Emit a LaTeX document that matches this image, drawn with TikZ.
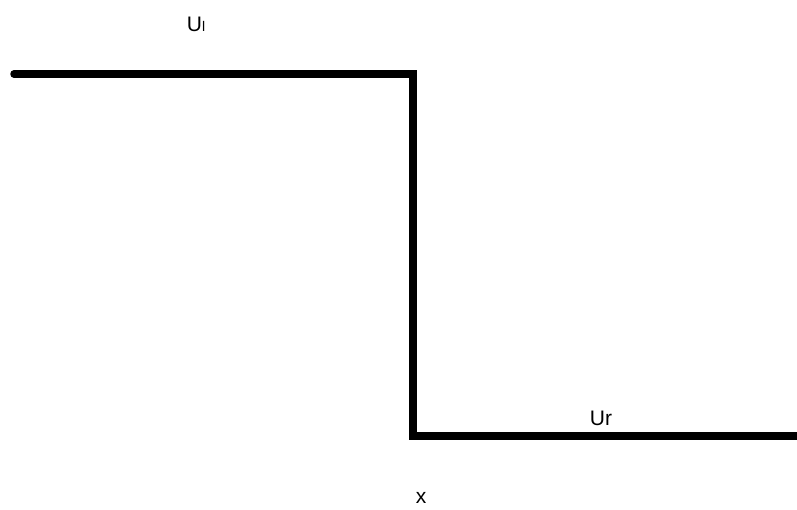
\documentclass[tikz,border=0pt]{standalone}
\usepackage{fontspec}
\setmainfont{Liberation Sans}
\begin{document}
\begin{tikzpicture}[x=1pt,y=-1pt,
  wall/.style={line width=7.5pt,line cap=round,line join=miter,black},
  lbl/.style={font=\fontsize{21}{24}\selectfont,inner sep=0pt,text=black}]
\useasboundingbox (0,0) rectangle (797,509);
\coordinate (a) at (14,74);
\coordinate (b) at (413,74);
\coordinate (c) at (413,436);
\coordinate (d) at (800,436);
\draw[wall] (a) -- (b) -- (c) -- (d);
\node[lbl,anchor=base] (ul) at (196,31) {U{\fontsize{14}{16}\selectfont l}};
\node[lbl,anchor=base] (ur) at (601,425) {Ur};
\node[lbl,anchor=base] (x) at (421,503) {x};
\end{tikzpicture}
\end{document}
